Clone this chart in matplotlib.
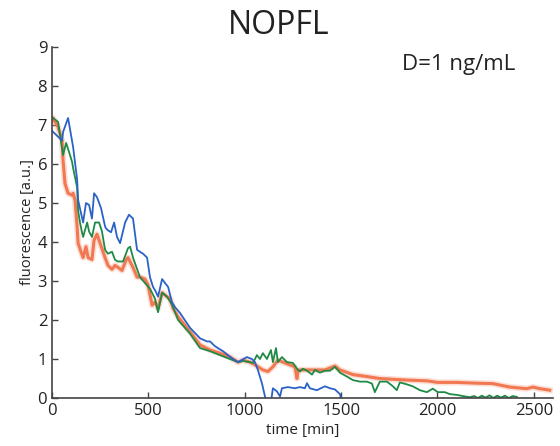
import matplotlib.pyplot as plt
import numpy as np

plt.rcParams['font.family'] = ['Open Sans', 'DejaVu Sans']

# blue trace
t_blue = [0, 31, 52, 57, 83, 109, 130, 135, 161, 176, 192, 207, 218, 233, 254, 275, 280,
          290, 306, 322, 337, 353, 379, 399, 420, 441, 456, 472, 493, 508, 524, 539, 550,
          571, 586, 602, 622, 638, 664, 716, 768, 804, 820, 845, 887, 939, 965, 1011, 1037,
          1053, 1068, 1089, 1105, 1115, 1125, 1136, 1146, 1167, 1183, 1193, 1224, 1260,
          1286, 1312, 1323, 1338, 1374, 1416, 1442, 1468, 1494, 1504]
v_blue = [6.85, 6.7, 6.6, 6.82, 7.18, 6.44, 5.6, 5.08, 4.5, 5.0, 4.95, 4.6, 5.25, 5.15,
          4.87, 4.4, 4.35, 4.3, 4.25, 4.5, 4.13, 3.97, 4.5, 4.7, 4.6, 3.8, 3.75, 3.7,
          3.6, 3.1, 2.85, 2.72, 2.6, 3.05, 2.95, 2.85, 2.46, 2.33, 2.18, 1.8, 1.53, 1.45,
          1.45, 1.33, 1.2, 1.0, 0.92, 1.05, 1.0, 0.92, 0.72, 0.38, 0.04, -0.2, -0.3, -0.1,
          0.25, 0.17, 0.04, 0.25, 0.28, 0.25, 0.28, 0.25, 0.38, 0.25, 0.2, 0.3, 0.25,
          0.22, 0.1, -0.1]

# green trace
t_green = [0, 5, 31, 57, 73, 93, 104, 109, 130, 135, 145, 156, 161, 182, 192, 207, 223,
           244, 259, 275, 290, 311, 327, 342, 368, 394, 405, 420, 456, 482, 508, 534,
           550, 571, 596, 622, 654, 716, 768, 820, 871, 923, 965, 991, 1027, 1043, 1063,
           1079, 1094, 1115, 1136, 1146, 1162, 1172, 1193, 1219, 1250, 1271, 1286, 1302,
           1323, 1349, 1364, 1390, 1416, 1442, 1468, 1494, 1530, 1561, 1598, 1634, 1660,
           1675, 1701, 1738, 1769, 1789, 1805, 1841, 1872, 1909, 1945, 1976, 2002, 2038,
           2064, 2101, 2132, 2168, 2190, 2210, 2230, 2250, 2270, 2290, 2310, 2330, 2350,
           2370, 2390, 2412]
v_green = [7.2, 7.18, 7.08, 6.23, 6.54, 6.23, 6.05, 5.9, 5.4, 4.8, 4.5, 4.23, 4.13, 4.5,
           4.27, 4.13, 4.5, 4.5, 4.27, 3.8, 3.7, 3.75, 3.54, 3.5, 3.5, 3.84, 3.88, 3.6,
           3.1, 2.95, 2.8, 2.55, 2.2, 2.7, 2.6, 2.4, 2.0, 1.65, 1.28, 1.2, 1.1, 1.0, 0.92,
           0.95, 0.92, 0.9, 1.1, 1.0, 1.15, 1.0, 1.23, 0.92, 1.28, 0.92, 1.05, 0.92, 0.9,
           0.75, 0.68, 0.75, 0.7, 0.6, 0.72, 0.65, 0.7, 0.7, 0.8, 0.65, 0.55, 0.46, 0.42,
           0.42, 0.37, 0.15, 0.42, 0.42, 0.3, 0.2, 0.4, 0.35, 0.3, 0.2, 0.15, 0.24, 0.15,
           0.15, 0.1, 0.08, 0.05, 0.02, 0.05, 0.0, 0.06, 0.01, 0.07, 0.0, 0.06, 0.01,
           0.06, 0.0, 0.05, 0.03]

# orange trace
t_orange = [0, 5, 31, 52, 57, 67, 83, 104, 109, 119, 130, 135, 150, 161, 176, 187, 207,
            218, 233, 249, 275, 290, 311, 327, 342, 363, 384, 394, 420, 441, 456, 482,
            498, 519, 534, 550, 571, 596, 612, 628, 654, 716, 768, 820, 871, 923, 965,
            991, 1027, 1053, 1094, 1120, 1146, 1172, 1198, 1234, 1260, 1271, 1276, 1323,
            1374, 1416, 1468, 1494, 1561, 1634, 1701, 1769, 1841, 1945, 2002, 2101,
            2204, 2287, 2376, 2464, 2495, 2531, 2583]
v_orange = [7.1, 7.18, 6.95, 6.6, 6.1, 5.5, 5.25, 5.2, 5.25, 5.08, 4.4, 3.97, 3.75, 3.6,
            3.88, 3.6, 3.55, 4.05, 4.2, 3.97, 3.6, 3.4, 3.3, 3.4, 3.35, 3.27, 3.54, 3.6,
            3.35, 3.1, 3.1, 3.05, 2.9, 2.38, 2.46, 2.3, 2.7, 2.6, 2.55, 2.3, 2.08, 1.7,
            1.36, 1.23, 1.15, 1.05, 0.92, 0.97, 0.92, 0.85, 0.72, 0.68, 0.8, 0.97, 0.92,
            0.85, 0.8, 0.5, 0.72, 0.72, 0.72, 0.72, 0.82, 0.72, 0.6, 0.55, 0.5, 0.48,
            0.46, 0.44, 0.4, 0.4, 0.38, 0.37, 0.28, 0.24, 0.28, 0.24, 0.2]

fig = plt.figure(figsize=(5.6, 4.46), dpi=100)
ax = fig.add_axes([0.093, 0.1076, 0.8946, 0.787])

ax.plot(t_orange, v_orange, color='#f4a58a', lw=4.5, alpha=0.35, solid_joinstyle='round')
ax.plot(t_orange, v_orange, color='#f27852', lw=2.2)
ax.plot(t_green, v_green, color='#1e8a46', lw=1.3)
ax.plot(t_blue, v_blue, color='#2a62c8', lw=1.3)

ax.set_xlim(0, 2600)
ax.set_ylim(0, 9)
ax.set_xticks([0, 500, 1000, 1500, 2000, 2500])
ax.set_yticks(range(10))
ax.spines['top'].set_visible(False)
ax.spines['right'].set_visible(False)
for s in ['left', 'bottom']:
    ax.spines[s].set_color('#444444')
    ax.spines[s].set_linewidth(1.2)
ax.tick_params(direction='in', length=4, width=1, colors='#444444',
               labelcolor='#222222', labelsize=12)
ax.set_xlabel('time [min]', fontsize=11, color='#222222', labelpad=3)
ax.set_ylabel('fluorescence [a.u.]', fontsize=10.5, color='#222222', labelpad=2)

fig.text(0.497, 0.942, 'NOPFL', fontsize=23, ha='center', va='center', color='#222222')
ax.text(515 / 560, 0.855, 'D=1 ng/mL', transform=fig.transFigure, fontsize=16,
        ha='right', va='center', color='#222222')

fig.savefig('out.png', dpi=100)
